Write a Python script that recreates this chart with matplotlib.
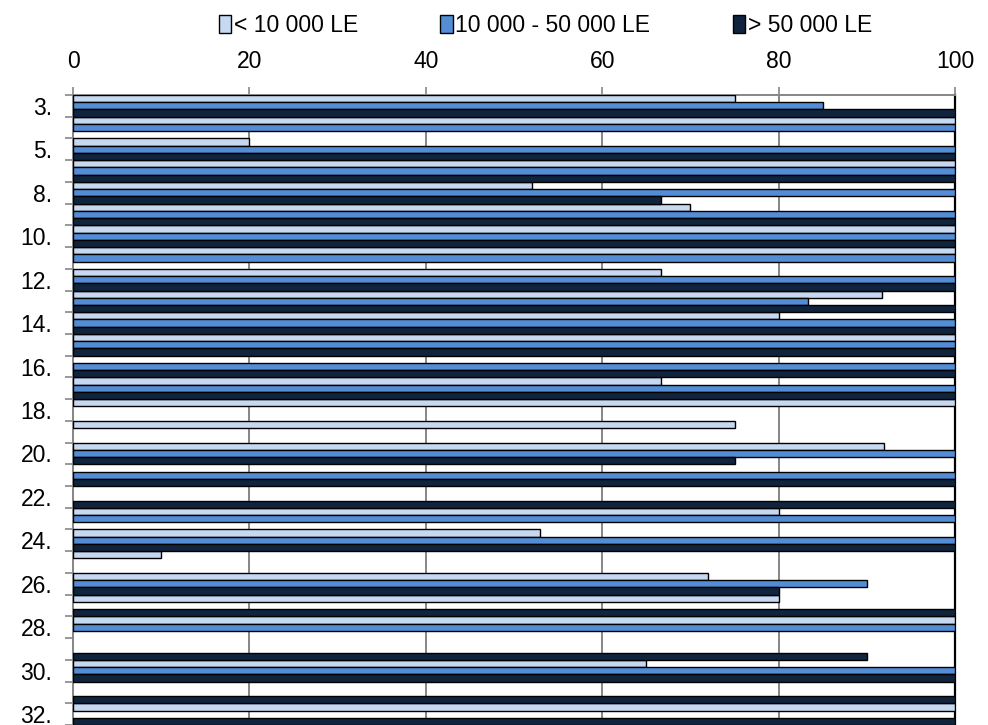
import matplotlib
matplotlib.use('Agg')
import matplotlib.pyplot as plt
import numpy as np

plt.rcParams['font.family'] = ['Liberation Sans', 'DejaVu Sans']

# ── Data ──────────────────────────────────────────────────
questions = ['3.', '4.', '5.', '7.', '8.', '9.', '10.', '11.', '12.', '13.',
             '14.', '15.', '16.', '17.', '18.', '19.', '20.', '21.', '22.', '23.',
             '24.', '25.', '26.', '27.', '28.', '29.', '30.', '31.', '32.']

small  = [75, 100, 20, 100, 52, 70, 100, 100, 66.7, 91.7,
          80, 100, 0, 66.7, 100, 75, 92, 0, 0, 80,
          53, 10, 72, 80, 100, 0, 65, 0, 100]
medium = [85, 100, 100, 100, 100, 100, 100, 100, 100, 83.3,
          100, 100, 100, 100, 0, 0, 100, 100, 0, 100,
          100, 0, 90, 0, 100, 0, 100, 0, 0]
large  = [100, 0, 100, 100, 66.7, 100, 100, 0, 100, 100,
          100, 100, 100, 100, 0, 0, 75, 100, 100, 0,
          100, 0, 80, 100, 0, 90, 100, 100, 100]

series_labels = ['< 10 000 LE', '10 000 - 50 000 LE', '> 50 000 LE']
colors = ['#C6D9F1', '#538DD5', '#10243E']
x_ticks = [0, 20, 40, 60, 80, 100]

FS = 16.5

# ── Plot ──────────────────────────────────────────────────
fig = plt.figure(figsize=(9.88, 7.25), dpi=100)
ax = fig.add_axes([73 / 988, 0.0, 882 / 988, 630 / 725])

pos = np.arange(len(questions))
bh = 1 / 3
handles = []
for k, (vals, col, lab) in enumerate(zip([small, medium, large], colors, series_labels)):
    vals = np.array(vals, dtype=float)
    keep = vals > 0
    ax.barh(pos[keep] - 1 / 3 + k * bh, vals[keep], height=bh, color=col,
            edgecolor='black', linewidth=1.0, zorder=3)
    handles.append(plt.Rectangle((0, 0), 1, 1, facecolor=col, edgecolor='black', linewidth=1.0))

ax.set_xlim(0, 100)
ax.set_ylim(len(questions) - 0.5, -0.5)

# x axis on top
ax.xaxis.tick_top()
ax.set_xticks(x_ticks)
ax.tick_params(axis='x', direction='out', length=6, width=1.2, color='#868686',
               labelsize=FS, pad=10)
ax.grid(axis='x', color='#868686', linewidth=1.4, zorder=0)

# y axis: ticks on band boundaries, every other label at band centre
ax.set_yticks(np.arange(len(questions) + 1) - 0.5)
ax.set_yticklabels([])
ax.tick_params(axis='y', which='major', direction='out', length=6, width=1.2, color='#868686')
ax.set_yticks(pos[::2], minor=True)
ax.set_yticklabels(questions[::2], minor=True)
ax.tick_params(axis='y', which='minor', length=0, labelsize=FS, pad=15)

for side in ['top', 'left']:
    ax.spines[side].set_color('#868686')
    ax.spines[side].set_linewidth(1.4)
ax.spines['right'].set_color('black')
ax.spines['right'].set_linewidth(1.6)
ax.spines['bottom'].set_visible(False)

fig.legend(handles, series_labels, loc='upper center', bbox_to_anchor=(0.552, 1.0),
           ncol=3, frameon=False, fontsize=FS, handlelength=0.55, handleheight=0.8,
           handletextpad=0.1, columnspacing=3.6, borderaxespad=0.2)

plt.savefig('out.png', dpi=100)
